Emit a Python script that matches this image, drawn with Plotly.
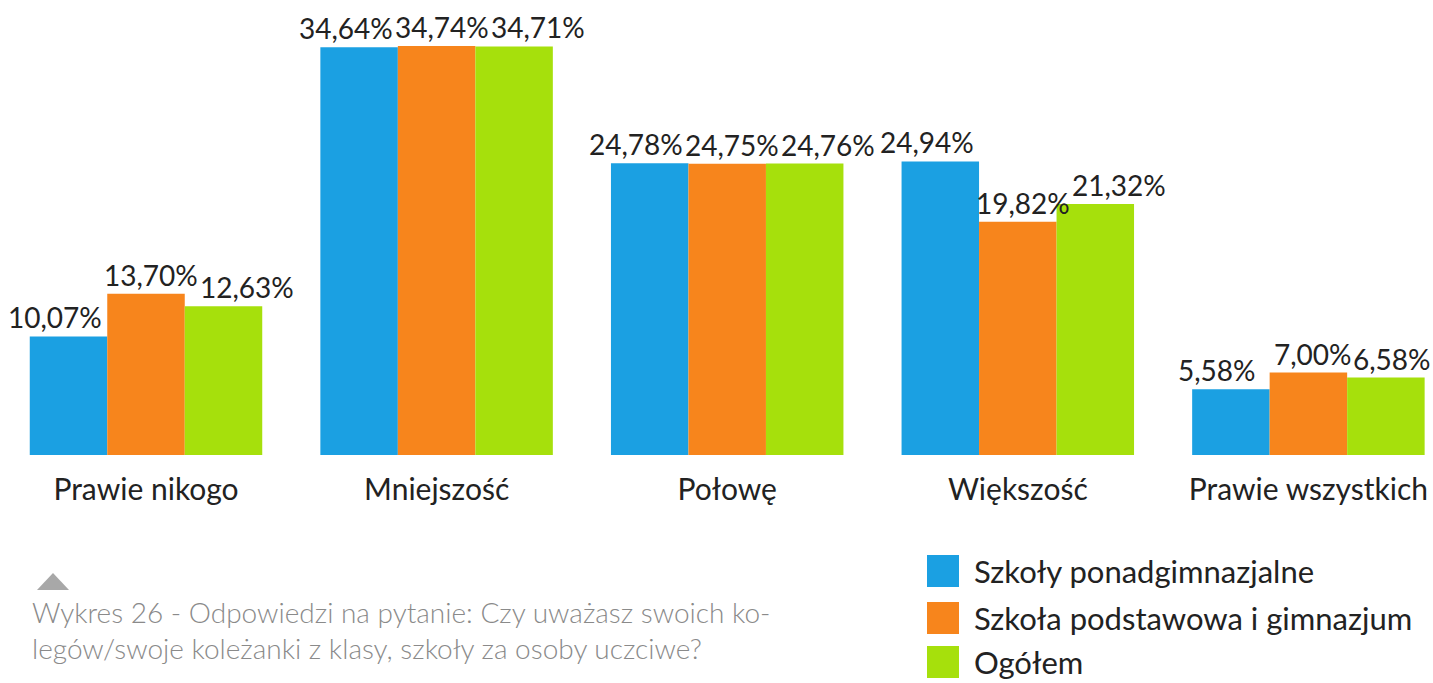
import plotly.graph_objects as go

categories = ["Prawie nikogo", "Mniejszość", "Połowę", "Większość", "Prawie wszystkich"]
series_names = ["Szkoły ponadgimnazjalne", "Szkoła podstawowa i gimnazjum", "Ogółem"]
ponadgimnazjalne = [10.07, 34.64, 24.78, 24.94, 5.58]
podstawowa_gimnazjum = [13.70, 34.74, 24.75, 19.82, 7.00]
ogolem = [12.63, 34.71, 24.76, 21.32, 6.58]
colors = ["#1ba0e2", "#f7851c", "#a6e00c"]
caption = ("Wykres 26 - Odpowiedzi na pytanie: Czy uważasz swoich ko-<br>"
           "legów/swoje koleżanki z klasy, szkoły za osoby uczciwe?")

W, H = 1433, 683
BASE = 455  # pixel of plot bottom
SPACING = 290.6  # pixels per category
CENTER0 = 146  # pixel of first category centre
BARGAP = 0.2


def fmt(v):
    return f"{v:.2f}".replace(".", ",") + "%"


def px(x):
    return x / W


def py(y):
    return (BASE - y) / BASE


fig = go.Figure()
xs = list(range(len(categories)))
all_series = [ponadgimnazjalne, podstawowa_gimnazjum, ogolem]
n = len(all_series)
bar_w = (1 - BARGAP) / n
annotations = []
for j, (name, vals, col) in enumerate(zip(series_names, all_series, colors)):
    fig.add_trace(go.Bar(
        x=xs, y=vals, name=name, marker=dict(color=col, line=dict(width=0)),
        showlegend=False, hoverinfo="x+y",
    ))
    off = (j - (n - 1) / 2) * bar_w
    for i, v in enumerate(vals):
        txt = fmt(v)
        # spread labels a little wider than the bars so they don't collide
        shift = (j - (n - 1) / 2) * (96 - bar_w * SPACING) + 5
        centre = CENTER0 + (i + off) * SPACING + shift
        half = 15.6 * len(txt) / 2
        if centre + half > W - 2:
            shift -= centre + half - (W - 2)
        annotations.append(dict(x=i + off, y=v, xref="x", yref="y", text=txt,
                                showarrow=False, yanchor="bottom", xanchor="center",
                                xshift=shift, yshift=0,
                                font=dict(family="Lato", size=28, color="#222222")))

shapes = []
legend_rows = [571, 618, 662]
for name, col, yc in zip(series_names, colors, legend_rows):
    shapes.append(dict(type="rect", xref="paper", yref="paper",
                       x0=px(927), x1=px(959), y0=py(yc - 16), y1=py(yc + 16),
                       fillcolor=col, line=dict(width=0)))
    annotations.append(dict(xref="paper", yref="paper", x=px(973), y=py(yc),
                            xanchor="left", yanchor="middle", showarrow=False,
                            borderpad=0,
                            text=name, font=dict(family="Lato", size=31, color="#222222")))

# caption marker triangle
shapes.append(dict(type="path", xref="paper", yref="paper",
                   path=f"M {px(37)} {py(590)} L {px(53)} {py(573)} L {px(69)} {py(590)} Z",
                   fillcolor="#a8a8a8", line=dict(width=0)))
annotations.append(dict(xref="paper", yref="paper", x=px(30), y=py(593),
                        xanchor="left", yanchor="top", showarrow=False, align="left",
                        text=caption,
                        font=dict(family="Lato", size=28, color="#8a8a8a", weight=300)))

fig.update_layout(
    width=W, height=H,
    margin=dict(l=0, r=0, t=0, b=H - BASE, pad=0),
    paper_bgcolor="white", plot_bgcolor="white",
    barmode="group", bargap=BARGAP, bargroupgap=0,
    xaxis=dict(range=[-CENTER0 / SPACING, (W - CENTER0) / SPACING],
               tickvals=xs, ticktext=categories, showgrid=False, zeroline=False,
               showline=False, ticks="outside", ticklen=8, tickcolor="rgba(0,0,0,0)",
               tickfont=dict(family="Lato", size=30, color="#222222")),
    yaxis=dict(range=[0, BASE / 11.77], visible=False, showgrid=False),
    shapes=shapes, annotations=annotations,
)

fig.write_html("out.html", config={"displayModeBar": False},
               post_script="document.body.style.margin='0';")
